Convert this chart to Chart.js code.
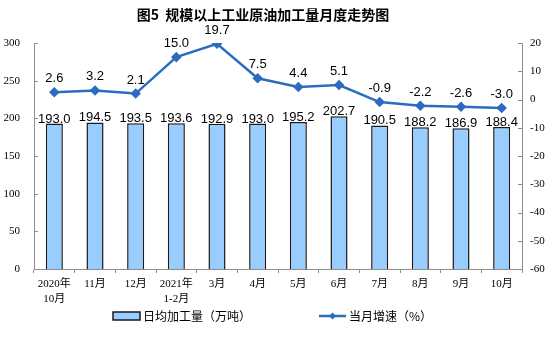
<!DOCTYPE html>
<html><head><meta charset="utf-8">
<script src="https://cdn.jsdelivr.net/npm/chart.js@4"></script>
<style>html,body{margin:0;padding:0;background:#fff}#wrap{width:554px;height:346px}</style>
</head><body><div id="wrap"><canvas id="c" width="554" height="346"></canvas></div>
<script>
const categories = [["2020年","10月"],"11月","12月",["2021年","1-2月"],"3月","4月","5月","6月","7月","8月","9月","10月"];
const dailyOutput = [193.0,194.5,193.5,193.6,192.9,193.0,195.2,202.7,190.5,188.2,186.9,188.4];
const growthRate = [2.6,3.2,2.1,15.0,19.7,7.5,4.4,5.1,-0.9,-2.2,-2.6,-3.0];
const titleText = "图5  规模以上工业原油加工量月度走势图";
const legendBar = "日均加工量（万吨）";
const legendLine = "当月增速（%）";

const LINE_COLOR = "#2b6cc0";
const BAR_FILL = "#99ccff";
const AXIS_COLOR = "#8c8c8c";
const serif = "'Liberation Serif','Noto Sans CJK SC',serif";
const sans = "'Liberation Sans',Arial,sans-serif";
const cjk = "'Noto Sans CJK SC',sans-serif";

const overlay = {
  id: 'overlay',
  afterDraw(chart) {
    const ctx = chart.ctx;
    const ca = chart.chartArea;
    ctx.save();
    // title
    ctx.fillStyle = '#000';
    ctx.font = "bold 14px " + cjk;
    ctx.textAlign = 'center';
    ctx.textBaseline = 'middle';
    ctx.fillText(titleText, 263, 15);
    // inward ticks
    ctx.strokeStyle = AXIS_COLOR;
    ctx.lineWidth = 1;
    const yL = chart.scales.y, yR = chart.scales.y1;
    yL.ticks.forEach(t => { const p = Math.round(yL.getPixelForValue(t.value)) + 0.5; ctx.beginPath(); ctx.moveTo(ca.left, p); ctx.lineTo(ca.left + 4, p); ctx.stroke(); });
    yR.ticks.forEach(t => { const p = Math.round(yR.getPixelForValue(t.value)) + 0.5; ctx.beginPath(); ctx.moveTo(ca.right, p); ctx.lineTo(ca.right - 4, p); ctx.stroke(); });
    // bar labels
    ctx.fillStyle = '#000';
    ctx.font = "13px " + sans;
    ctx.textAlign = 'center';
    ctx.textBaseline = 'alphabetic';
    chart.getDatasetMeta(0).data.forEach((el, i) => {
      ctx.fillText(dailyOutput[i].toFixed(1), el.x, el.y - 1);
    });
    chart.getDatasetMeta(1).data.forEach((el, i) => {
      ctx.fillText(growthRate[i].toFixed(1), el.x, el.y - 10);
    });
    // legend
    const ly = 316;
    ctx.fillStyle = BAR_FILL;
    ctx.strokeStyle = '#1a1a1a';
    ctx.lineWidth = 1.5;
    ctx.fillRect(113, ly - 4, 27, 8);
    ctx.strokeRect(113, ly - 4, 27, 8);
    ctx.fillStyle = '#000';
    ctx.font = "12px " + cjk;
    ctx.textAlign = 'left';
    ctx.textBaseline = 'middle';
    ctx.fillText(legendBar, 143, ly);
    ctx.strokeStyle = LINE_COLOR;
    ctx.lineWidth = 2.5;
    ctx.beginPath(); ctx.moveTo(319, ly); ctx.lineTo(346, ly); ctx.stroke();
    ctx.fillStyle = LINE_COLOR;
    ctx.beginPath(); ctx.moveTo(332.5, ly - 3.5); ctx.lineTo(336, ly); ctx.lineTo(332.5, ly + 3.5); ctx.lineTo(329, ly); ctx.closePath(); ctx.fill();
    ctx.fillStyle = '#000';
    ctx.fillText(legendLine, 349, ly);
    ctx.restore();
  }
};

new Chart(document.getElementById('c'), {
  data: {
    labels: categories,
    datasets: [
      { type: 'bar', label: legendBar, data: dailyOutput, yAxisID: 'y', backgroundColor: BAR_FILL, borderColor: '#1a1a1a', borderWidth: 1.5, categoryPercentage: 1, barPercentage: 0.42, order: 2 },
      { type: 'line', label: legendLine, data: growthRate, yAxisID: 'y1', borderColor: LINE_COLOR, backgroundColor: LINE_COLOR, borderWidth: 2.5, pointStyle: 'rectRot', pointRadius: 3.5, pointHoverRadius: 3.5, tension: 0, order: 1 }
    ]
  },
  options: {
    responsive: false,
    animation: false,
    devicePixelRatio: 1,
    layout: { padding: { top: 43, left: 0, right: 0, bottom: 0 } },
    plugins: { legend: { display: false }, title: { display: false }, tooltip: { enabled: false } },
    scales: {
      x: {
        offset: true,
        grid: { offset: true, drawOnChartArea: false, drawTicks: true, tickLength: 4, color: AXIS_COLOR },
        border: { display: true, color: AXIS_COLOR, width: 1 },
        ticks: { color: '#000', font: { family: serif, size: 11, lineHeight: 1.35 }, padding: 4, maxRotation: 0, autoSkip: false },
        afterFit(s) { s.height = 77; }
      },
      y: {
        position: 'left', min: 0, max: 300,
        grid: { display: false, drawTicks: false },
        border: { display: true, color: AXIS_COLOR, width: 1 },
        ticks: { stepSize: 50, color: '#000', font: { family: serif, size: 11 }, padding: 14 },
        afterFit(s) { s.width = 34; }
      },
      y1: {
        position: 'right', min: -60, max: 20,
        grid: { display: false, drawTicks: false },
        border: { display: true, color: AXIS_COLOR, width: 1 },
        ticks: { stepSize: 10, color: '#000', font: { family: serif, size: 11 }, padding: 8 },
        afterFit(s) { s.width = 32; }
      }
    }
  },
  plugins: [overlay]
});
</script></body></html>
